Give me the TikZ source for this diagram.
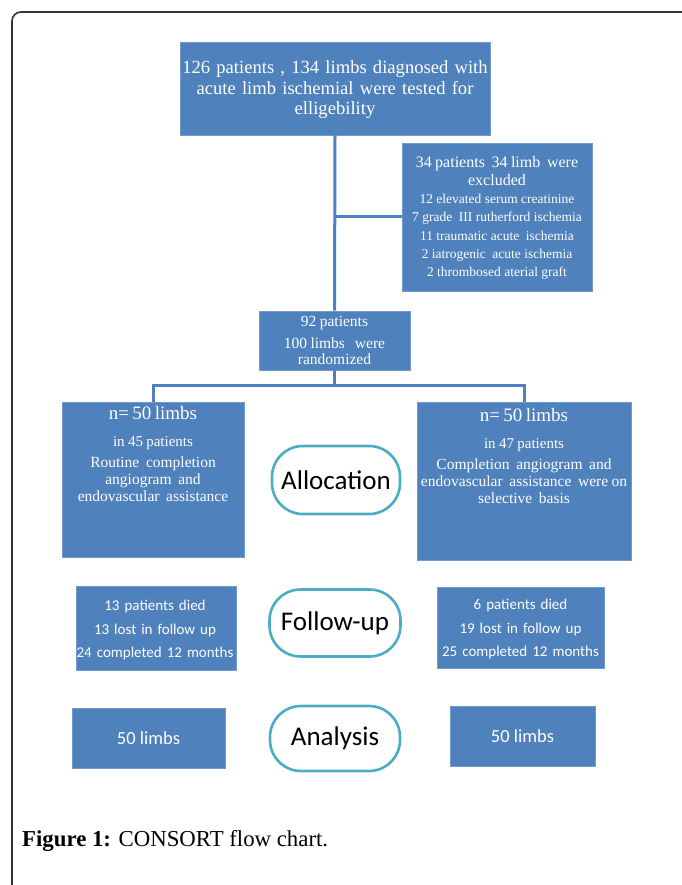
\documentclass[tikz,border=0pt]{standalone}
\usepackage{fontspec}
\usetikzlibrary{calc}
\setmainfont{Liberation Serif}
\newfontfamily\calib{Carlito}
\definecolor{boxblue}{HTML}{4F81BD}
\definecolor{teal}{HTML}{4BACC6}
\definecolor{framegray}{HTML}{333333}
\newcommand\fs[2]{\fontsize{#1}{#2}\selectfont}
\tikzset{
  bluebox/.style={draw=boxblue!80!white, line width=0.6pt, fill=boxblue, text=white, align=center, inner sep=0pt},
  btext/.style={text=white, align=center, inner sep=0pt},
  stage/.style={draw=teal, line width=2.6pt, fill=white, rounded corners=31pt, align=center, inner sep=0pt, font=\calib\fs{27}{30}},
  conn/.style={draw=boxblue, line width=3pt}
}
\begin{document}
\begin{tikzpicture}[x=1pt,y=-1pt]
\useasboundingbox (0,0) rectangle (681,885);
\fill[white] (0,0) rectangle (681,885);
% frame
\draw[framegray, line width=1.6pt, rounded corners=9pt] (12,890) -- (12,12) -- (700,12);

% top
\node[bluebox, minimum width=310pt, minimum height=93pt] (top) at (335,88.5) {};
\node[btext, text width=330pt, font=\fs{18.6}{20.5}] (topt) at (335,90)
 {126 patients , 134 limbs diagnosed with\\ acute limb ischemial were tested for\\ elligebility};

% excluded
\node[bluebox, minimum width=190pt, minimum height=148pt] (excl) at (497,217) {};
\node[btext, anchor=north, text width=200pt] (exclt) at (497,156)
 {\fs{16}{18}34 patients\ \ 34 limb\ \ were\\ excluded\par
  \fs{13.5}{18.3}12 elevated\ serum\ creatinine\\ 7 grade\ \ III rutherford ischemia\\ 11 traumatic acute\ \ ischemia\\ 2 iatrogenic\ \ acute ischemia\\ 2 thrombosed aterial\ graft\par};

% randomized
\node[bluebox, minimum width=151pt, minimum height=59pt] (rand) at (334.5,340.5) {};
\node[btext, anchor=north, text width=151pt] (randt) at (334.5,316)
 {\fs{15.5}{22}92 patients\\ 100 limbs\ \ \ were\par\fs{15.5}{16.5}randomized\par};

% arms
\node[bluebox, minimum width=182pt, minimum height=155pt] (L) at (153,479.5) {};
\node[btext, anchor=north, text width=190pt] (Lt) at (153,406)
 {\fs{19}{22}n= 50 limbs\par
  \fs{15}{27}in 45 patients\par\vspace{4pt}
  \fs{15.5}{17}Routine\ \ completion\\ angiogram\ \ and\\ endovascular\ \ assistance\par};
\node[bluebox, minimum width=214pt, minimum height=158pt] (R) at (524,481) {};
\node[btext, anchor=north, text width=222pt] (Rt) at (524,408)
 {\fs{19}{22}n= 50 limbs\par
  \fs{15}{27}in 47 patients\par\vspace{4pt}
  \fs{15.5}{17}Completion\ \ angiogram\ \ and\\ endovascular\ \ assistance\ \ were on\\ selective\ \ basis\par};
\node[stage, minimum width=128pt, minimum height=68pt] (alloc) at (336,480) {Allocation};

% follow-up
\node[bluebox, minimum width=160pt, minimum height=84pt] (FL) at (156,628) {};
\node[btext, text width=170pt, font=\calib\fs{15}{23.5}] (FLt) at (155,630)
 {13 patients died\\ 13 lost in follow up\\ 24 completed 12 months};
\node[bluebox, minimum width=167pt, minimum height=81pt] (FR) at (520.5,627.5) {};
\node[btext, text width=175pt, font=\calib\fs{15}{23.5}] (FRt) at (520.5,629)
 {6 patients died\\ 19 lost in follow up\\ 25 completed 12 months};
\node[stage, minimum width=131pt, minimum height=67pt] (fu) at (335,623) {Follow-up};

% analysis
\node[bluebox, minimum width=153pt, minimum height=60pt, font=\calib\fs{18.5}{20}] (AL) at (148.5,738) {50 limbs};
\node[bluebox, minimum width=145pt, minimum height=60pt, font=\calib\fs{18.5}{20}] (AR) at (522.5,736) {50 limbs};
\node[stage, minimum width=130pt, minimum height=65pt] (an) at (335,738.5) {Analysis};

% connectors
\coordinate (j1) at (top.south |- excl.west);
\draw[conn] (top.south) -- (rand.north);
\draw[conn] (j1) -- (excl.west);
\coordinate (s) at ($(rand.south)+(0,15)$);
\draw[conn] (rand.south) -- (s);
\draw[conn, line cap=butt] (L.north) -- (L.north |- s) -- (R.north |- s) -- (R.north);

% caption
\node[anchor=base west, inner sep=0pt, font=\fs{22.8}{24}] (cap) at (22,846)
 {\textbf{Figure 1:} CONSORT flow chart.};
\end{tikzpicture}
\end{document}
